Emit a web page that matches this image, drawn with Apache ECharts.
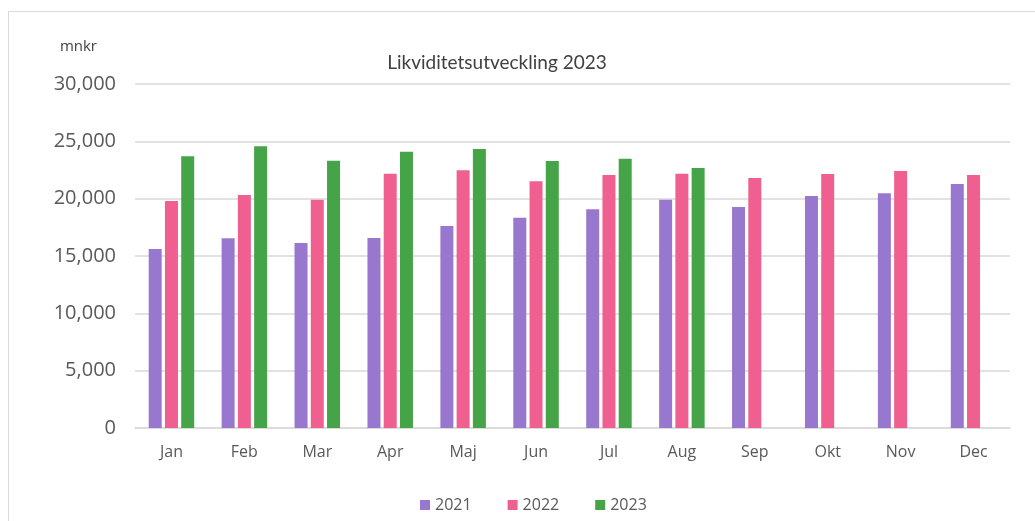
<!DOCTYPE html>
<html>
<head>
<meta charset="utf-8">
<script src="https://cdn.jsdelivr.net/npm/echarts@6/dist/echarts.min.js"></script>
<style>
  html, body { margin: 0; padding: 0; background: #fff; }
  #frame {
    position: absolute; left: 8px; top: 11px; width: 1040px; height: 530px;
    border: 1px solid #d9d9d9; box-sizing: border-box;
  }
  #chart { position: absolute; left: 0; top: 0; width: 1035px; height: 521px; }
</style>
</head>
<body>
<div id="frame"></div>
<div id="chart"></div>
<script>
const months = ['Jan', 'Feb', 'Mar', 'Apr', 'Maj', 'Jun', 'Jul', 'Aug', 'Sep', 'Okt', 'Nov', 'Dec'];
const values2021 = [15600, 16550, 16130, 16570, 17620, 18340, 19070, 19910, 19270, 20230, 20470, 21280];
const values2022 = [19800, 20320, 19910, 22180, 22470, 21510, 22070, 22180, 21800, 22150, 22410, 22070];
const values2023 = [23700, 24570, 23310, 24100, 24330, 23290, 23490, 22680, null, null, null, null];

const sans = '"Open Sans", sans-serif';
const titleFont = 'Lato, "Open Sans", sans-serif';
const chart = echarts.init(document.getElementById('chart'));

function bars(name, data, color) {
  return {
    name: name,
    type: 'bar',
    data: data,
    barWidth: 13,
    barGap: '25%',
    itemStyle: { color: color }
  };
}

chart.setOption({
  animation: false,
  textStyle: { fontFamily: sans },
  title: {
    text: 'Likviditetsutveckling 2023',
    left: 492,
    textAlign: 'center',
    top: 48,
    textStyle: { fontFamily: titleFont, fontSize: 19, fontWeight: 'normal', color: '#404040' }
  },
  legend: {
    bottom: 3,
    left: 415,
    itemWidth: 10,
    itemHeight: 10,
    itemGap: 36,
    icon: 'rect',
    textStyle: { fontFamily: sans, fontSize: 16, color: '#595959' },
    data: ['2021', '2022', '2023']
  },
  grid: { left: 135, right: 25, top: 84, bottom: 93 },
  xAxis: {
    type: 'category',
    data: months,
    axisLine: { lineStyle: { color: '#d9d9d9', width: 1.5 } },
    axisTick: { show: false },
    axisLabel: { fontFamily: sans, fontSize: 16, color: '#595959', margin: 16 }
  },
  yAxis: {
    type: 'value',
    min: 0,
    max: 30000,
    interval: 5000,
    name: 'mnkr',
    nameLocation: 'end',
    nameGap: 30,
    nameTextStyle: { fontFamily: sans, fontSize: 15, color: '#404040', align: 'right', padding: [0, 38, 0, 0] },
    axisLine: { show: false },
    axisTick: { show: false },
    splitLine: { lineStyle: { color: '#d9d9d9', width: 1.5 } },
    axisLabel: {
      fontFamily: sans, fontSize: 20, color: '#595959', margin: 19,
      formatter: v => v.toLocaleString('en-US')
    }
  },
  series: [
    bars('2021', values2021, '#9878CF'),
    bars('2022', values2022, '#EF6090'),
    bars('2023', values2023, '#44A447')
  ]
});
</script>
</body>
</html>
